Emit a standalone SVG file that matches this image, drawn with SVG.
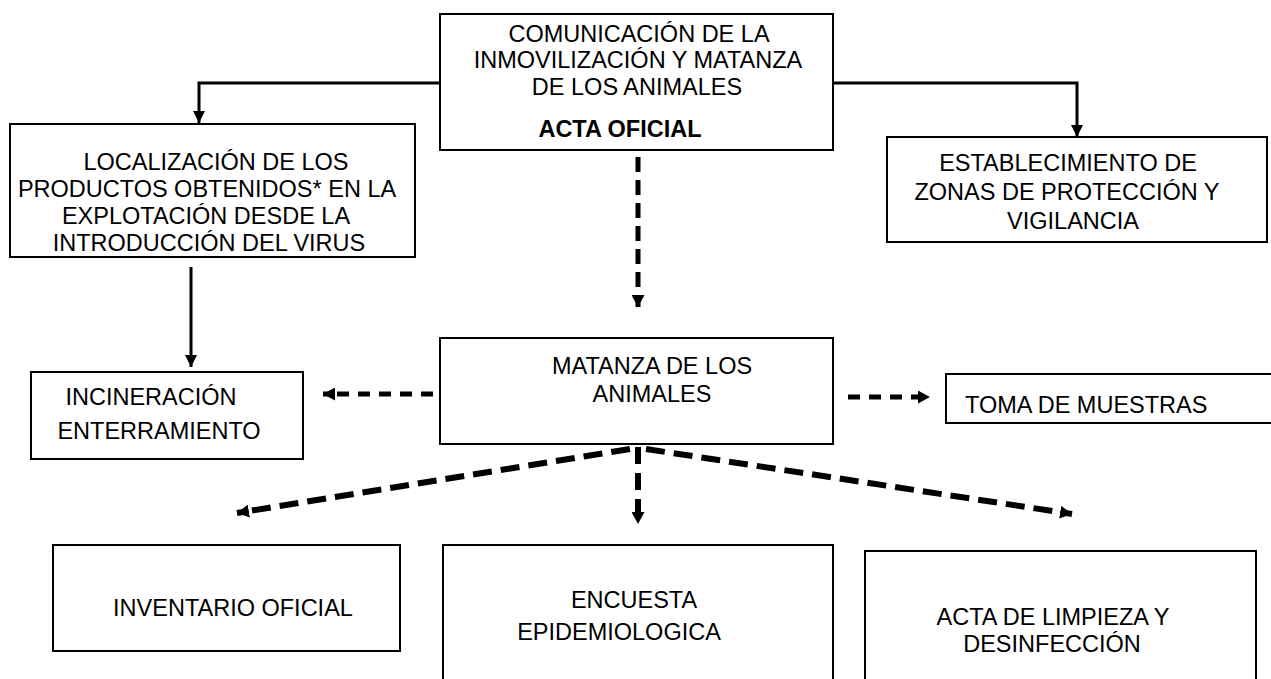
<svg xmlns="http://www.w3.org/2000/svg" width="1271" height="679" viewBox="0 0 1271 679">
<style>
  .box { fill: #fff; stroke: #000; stroke-width: 2; }
  .t { font-family: "Liberation Sans", Arial, sans-serif; font-size: 23.5px; fill: #000; text-anchor: middle; }
  .b { font-weight: bold; }
  .solid { fill: none; stroke: #000; stroke-width: 3; }
  .dash { fill: none; stroke: #000; stroke-width: 5; }
  .dash6 { fill: none; stroke: #000; stroke-width: 6; }
</style>
<defs>
  <marker id="ah" markerUnits="userSpaceOnUse" viewBox="0 0 12 12" markerWidth="12" markerHeight="12" refX="12" refY="6" orient="auto">
    <path d="M0,0 L12,6 L0,12 Z" fill="#000"/>
  </marker>
  <marker id="ahd" markerUnits="userSpaceOnUse" viewBox="0 0 12 13" markerWidth="12" markerHeight="13" refX="12" refY="6.5" orient="auto">
    <path d="M0,0 L12,6.5 L0,13 Z" fill="#000"/>
  </marker>
</defs>
<rect width="1271" height="679" fill="#fff"/>

<g id="connectors">
  <path class="solid" d="M440,83 H199 V123" marker-end="url(#ah)"/>
  <path class="solid" d="M833,83 H1077 V137" marker-end="url(#ah)"/>
  <path class="solid" d="M191,267 V367" marker-end="url(#ah)"/>
  <path class="dash" d="M638,157 V307" stroke-dasharray="15 8" marker-end="url(#ahd)"/>
  <path class="dash" d="M433,394 H323" stroke-dasharray="12 9" marker-end="url(#ahd)"/>
  <path class="dash" d="M848,397 H930" stroke-dasharray="12 9" marker-end="url(#ahd)"/>
  <path class="dash6" d="M630,449 L237,513" stroke-dasharray="19 9" marker-end="url(#ahd)"/>
  <path class="dash6" d="M646,449 L1072,514" stroke-dasharray="19 9" marker-end="url(#ahd)"/>
  <path class="dash6" d="M638,447 V524" stroke-dasharray="17 9" marker-end="url(#ahd)"/>
</g>

<g id="comunicacion">
  <rect class="box" x="440" y="14" width="393" height="136"/>
  <text class="t" x="639" y="42">COMUNICACIÓN DE LA</text>
  <text class="t" x="638" y="68">INMOVILIZACIÓN Y MATANZA</text>
  <text class="t" x="637" y="95">DE LOS ANIMALES</text>
  <text class="t b" x="620" y="137">ACTA OFICIAL</text>
</g>

<g id="localizacion">
  <rect class="box" x="10" y="124" width="405" height="133"/>
  <text class="t" x="216" y="170">LOCALIZACIÓN DE LOS</text>
  <text class="t" x="207" y="197">PRODUCTOS OBTENIDOS* EN LA</text>
  <text class="t" x="206" y="224">EXPLOTACIÓN DESDE LA</text>
  <text class="t" x="209" y="251">INTRODUCCIÓN DEL VIRUS</text>
</g>

<g id="establecimiento">
  <rect class="box" x="887" y="137" width="380" height="105"/>
  <text class="t" x="1068" y="171">ESTABLECIMIENTO DE</text>
  <text class="t" x="1067" y="200">ZONAS DE PROTECCIÓN Y</text>
  <text class="t" x="1073" y="229">VIGILANCIA</text>
</g>

<g id="incineracion">
  <rect class="box" x="31" y="372" width="272" height="87"/>
  <text class="t" x="151" y="405">INCINERACIÓN</text>
  <text class="t" x="159" y="439">ENTERRAMIENTO</text>
</g>

<g id="matanza">
  <rect class="box" x="440" y="338" width="393" height="106"/>
  <text class="t" x="652" y="374">MATANZA DE LOS</text>
  <text class="t" x="652" y="402">ANIMALES</text>
</g>

<g id="toma">
  <rect class="box" x="946" y="374" width="340" height="49"/>
  <text class="t" x="965" y="413" style="text-anchor:start">TOMA DE MUESTRAS</text>
</g>

<g id="inventario">
  <rect class="box" x="53" y="545" width="347" height="106"/>
  <text class="t" x="233" y="616">INVENTARIO OFICIAL</text>
</g>

<g id="encuesta">
  <rect class="box" x="443" y="545" width="390" height="150"/>
  <text class="t" x="634" y="608">ENCUESTA</text>
  <text class="t" x="619" y="640">EPIDEMIOLOGICA</text>
</g>

<g id="acta">
  <rect class="box" x="865" y="551" width="391" height="150"/>
  <text class="t" x="1053" y="625">ACTA DE LIMPIEZA Y</text>
  <text class="t" x="1052" y="652">DESINFECCIÓN</text>
</g>
</svg>
